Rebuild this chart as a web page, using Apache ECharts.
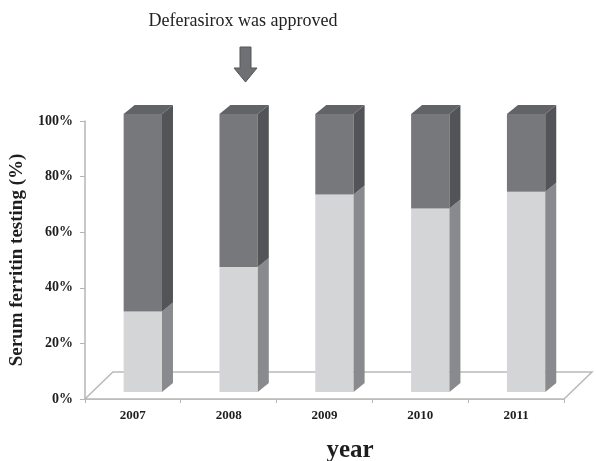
<!DOCTYPE html>
<html>
<head>
<meta charset="utf-8">
<script src="https://cdn.jsdelivr.net/npm/echarts@6/dist/echarts.min.js"></script>
<style>
html,body{margin:0;padding:0;background:#fff;}
#chart{width:596px;height:461px;}
</style>
</head>
<body>
<div id="chart"></div>
<script>
// ---- data ----
const categories = ['2007', '2008', '2009', '2010', '2011'];
const lowerValues = [29, 45, 71, 66, 72];   // light gray segment (%)
const upperValues = [71, 55, 29, 34, 28];   // dark gray segment (%)
const yTicks = [0, 20, 40, 60, 80, 100];
const annotationText = 'Deferasirox was approved';
const yAxisTitle = 'Serum ferritin testing (%)';
const xAxisTitle = 'year';

// ---- styling / geometry ----
const FONT = "'Liberation Serif', 'Times New Roman', serif";
const FRONT_DX = 10, FRONT_DY = -7;   // bar front face offset inside floor
const DEPTH_DX = 11, DEPTH_DY = -9;   // bar depth
const FLOOR_DX = 28, FLOOR_DY = -27;  // floor depth

function barRenderer(colors) {
  return function (params, api) {
    const i = api.value(0), b = api.value(1), t = api.value(2);
    const pB = api.coord([i, b]);
    const pT = api.coord([i, t]);
    const w = api.size([1, 0])[0] * 0.4;
    const x0 = pB[0] + FRONT_DX - w / 2, x1 = x0 + w;
    const yB = pB[1] + FRONT_DY, yT = pT[1] + FRONT_DY;
    const children = [
      { type: 'rect', shape: { x: x0, y: yT, width: w, height: yB - yT },
        style: { fill: colors.front } },
      { type: 'polygon', shape: { points: [[x1, yB], [x1 + DEPTH_DX, yB + DEPTH_DY], [x1 + DEPTH_DX, yT + DEPTH_DY], [x1, yT]] },
        style: { fill: colors.side } }
    ];
    if (colors.top) {
      children.push({ type: 'polygon', shape: { points: [[x0, yT], [x0 + DEPTH_DX, yT + DEPTH_DY], [x1 + DEPTH_DX, yT + DEPTH_DY], [x1, yT]] },
        style: { fill: colors.top } });
    }
    return { type: 'group', children: children };
  };
}

function floorRenderer(params, api) {
  const cs = params.coordSys;
  const xL = cs.x, xR = cs.x + cs.width, yF = cs.y + cs.height;
  return {
    type: 'polygon',
    shape: { points: [[xL, yF], [xL + FLOOR_DX, yF + FLOOR_DY], [xR + FLOOR_DX, yF + FLOOR_DY], [xR, yF]] },
    style: { fill: '#ffffff', stroke: '#b9b9b9', lineWidth: 1.5 }
  };
}

const lowerData = categories.map((c, i) => [i, 0, lowerValues[i]]);
const upperData = categories.map((c, i) => [i, lowerValues[i], lowerValues[i] + upperValues[i]]);

const chart = echarts.init(document.getElementById('chart'), null, { renderer: 'canvas' });
chart.setOption({
  backgroundColor: '#ffffff',
  animation: false,
  grid: { left: 84, right: 32, top: 121, bottom: 62 },
  xAxis: {
    type: 'category',
    data: categories,
    axisLine: { lineStyle: { color: '#b4b4b4', width: 1.5 } },
    axisTick: { show: true, length: 4, lineStyle: { color: '#b4b4b4' } },
    axisLabel: { margin: 10, fontFamily: FONT, fontWeight: 'bold', fontSize: 13, color: '#1e1e1e' }
  },
  yAxis: {
    type: 'value',
    min: yTicks[0], max: yTicks[yTicks.length - 1], interval: yTicks[1] - yTicks[0],
    name: yAxisTitle,
    nameLocation: 'middle',
    nameGap: 56,
    nameTextStyle: { fontFamily: FONT, fontWeight: 'bold', fontSize: 19, color: '#1e1e1e' },
    axisLine: { show: true, lineStyle: { color: '#b4b4b4', width: 1.5 } },
    axisTick: { show: true, length: 5, lineStyle: { color: '#b4b4b4' } },
    splitLine: { show: false },
    axisLabel: { margin: 12, formatter: '{value}%', fontFamily: FONT, fontWeight: 'bold', fontSize: 14, color: '#1e1e1e' }
  },
  graphic: [
    { type: 'text', x: 243, y: 21,
      style: { text: annotationText, font: '18px ' + FONT, fill: '#222', align: 'center', verticalAlign: 'middle' } },
    { type: 'polygon', shape: { points: [[240, 47], [251, 47], [251, 68], [257, 68], [245.5, 82], [234, 68], [240, 68]] },
      style: { fill: '#6f7073', stroke: '#555659', lineWidth: 1 } },
    { type: 'text', x: 350, y: 451,
      style: { text: xAxisTitle, font: 'bold 25px ' + FONT, fill: '#1e1e1e', align: 'center', verticalAlign: 'middle' } }
  ],
  series: [
    { type: 'custom', name: 'floor', data: [[0, 0]], renderItem: floorRenderer, clip: false, silent: true, z: 1 },
    { type: 'custom', name: 'lower', data: lowerData, encode: { x: 0, y: 2 }, clip: false, z: 2,
      renderItem: barRenderer({ front: '#d4d5d7', side: '#898a8e' }) },
    { type: 'custom', name: 'upper', data: upperData, encode: { x: 0, y: 2 }, clip: false, z: 2,
      renderItem: barRenderer({ front: '#77787b', side: '#535457', top: '#626366' }) }
  ]
});
</script>
</body>
</html>
